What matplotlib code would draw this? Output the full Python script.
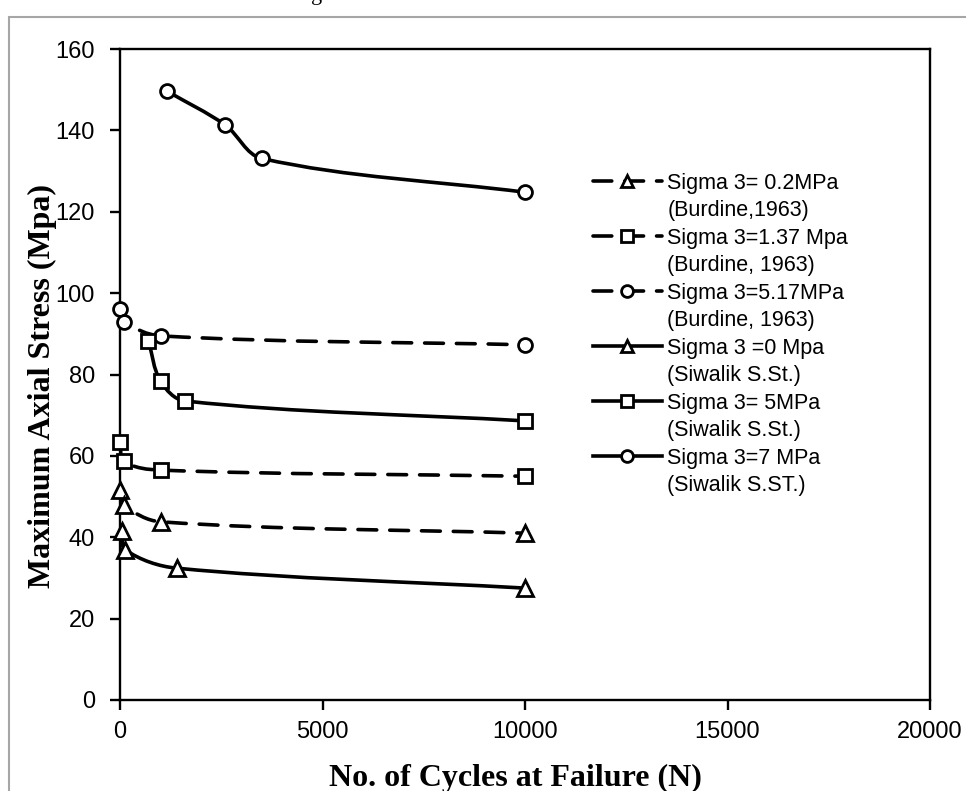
import numpy as np
import matplotlib.pyplot as plt
from matplotlib.path import Path
from matplotlib.patches import PathPatch, Rectangle
from matplotlib.lines import Line2D

# ---- data ----
n_02 = [10, 100, 1000, 10000]          # Sigma 3 = 0.2 MPa (Burdine)
s_02 = [51.6, 47.9, 43.8, 41.0]
n_137 = [10, 100, 1000, 10000]         # Sigma 3 = 1.37 MPa (Burdine)
s_137 = [63.5, 58.7, 56.5, 55.0]
n_517 = [10, 100, 1000, 10000]         # Sigma 3 = 5.17 MPa (Burdine)
s_517 = [96.2, 93.0, 89.5, 87.3]
n_0 = [60, 130, 1400, 10000]           # Sigma 3 = 0 MPa (Siwalik)
s_0 = [41.5, 36.9, 32.4, 27.5]
n_5 = [700, 1000, 1600, 10000]         # Sigma 3 = 5 MPa (Siwalik)
s_5 = [88.3, 78.4, 73.5, 68.6]
n_7 = [1150, 2600, 3500, 10000]        # Sigma 3 = 7 MPa (Siwalik)
s_7 = [149.7, 141.3, 133.1, 124.8]

labels1 = ['Sigma 3= 0.2MPa', 'Sigma 3=1.37 Mpa', 'Sigma 3=5.17MPa',
           'Sigma 3 =0 Mpa', 'Sigma 3= 5MPa', 'Sigma 3=7 MPa']
labels2 = ['(Burdine,1963)', '(Burdine, 1963)', '(Burdine, 1963)',
           '(Siwalik S.St.)', '(Siwalik S.St.)', '(Siwalik S.ST.)']

xticks = [0, 5000, 10000, 15000, 20000]
yticks = [0, 20, 40, 60, 80, 100, 120, 140, 160]

W, H = 966, 791
fig = plt.figure(figsize=(W/100, H/100), dpi=100)
L, R, T, B = 120, 930, 49, 700
ax = fig.add_axes([L/W, 1-B/H, (R-L)/W, (B-T)/H])
ax.set_xlim(0, 20000)
ax.set_ylim(0, 160)

# outer chart border (cut at right/bottom like the original)
fig.patches.append(Rectangle((9/W, -0.2), 1.5, 1-17/H+0.2, transform=fig.transFigure,
                             fill=False, edgecolor='#a6a6a6', lw=1.5))
# bit of caption text above the chart, cut by the image edge
fig.text(317/W, 1.0, 'g', fontsize=16, family='Liberation Serif', ha='center', va='baseline')

def unit(v):
    n = np.hypot(v[0], v[1])
    return v/n if n > 0 else v

def smooth(ax, xs, ys, dashed):
    # smoothed line like excel: cubic bezier pieces, worked out in pixel space
    sx = (R-L)/20000.0
    sy = (B-T)/160.0
    p = np.column_stack([np.array(xs)*sx, np.array(ys)*sy])
    pts = [p[0]]
    codes = [Path.MOVETO]
    for i in range(len(p)-1):
        p0 = p[i-1] if i > 0 else p[i]
        p1, p2 = p[i], p[i+1]
        p3 = p[i+2] if i+2 < len(p) else p[i+1]
        seg = np.hypot(*(p2-p1))
        c1 = p1 + unit(p2-p0)*seg/3.0
        c2 = p2 - unit(p3-p1)*seg/3.0
        pts += [c1, c2, p2]
        codes += [Path.CURVE4]*3
    pts = np.array(pts)
    pts[:, 0] /= sx
    pts[:, 1] /= sy
    ls = (0, (5.2, 3.6)) if dashed else '-'
    patch = PathPatch(Path(pts, codes), fill=False, lw=2.6, edgecolor='black',
                      linestyle=ls, capstyle='round', joinstyle='round', zorder=2)
    ax.add_patch(patch)

series = [(n_02, s_02, '^', True), (n_137, s_137, 's', True), (n_517, s_517, 'o', True),
          (n_0, s_0, '^', False), (n_5, s_5, 's', False), (n_7, s_7, 'o', False)]
msize = {'^': 11, 's': 10, 'o': 10}

handles = []
labels = []
for (xs, ys, m, d), l1, l2 in zip(series, labels1, labels2):
    smooth(ax, xs, ys, d)
    ax.plot(xs, ys, linestyle='none', marker=m, ms=msize[m], mfc='white', mec='black',
            mew=2, zorder=3, clip_on=False)
    h = Line2D([], [], color='black', lw=2.6, linestyle=(0, (5.2, 3.6)) if d else '-',
               marker=m, ms=msize[m]*0.85, mfc='white', mec='black', mew=2,
               dash_capstyle='round')
    handles += [h, Line2D([], [], linestyle='none')]
    labels += [l1, l2]

leg = fig.legend(handles, labels, loc='upper left', bbox_to_anchor=(593/W, 1-173/H),
                 bbox_transform=fig.transFigure, frameon=False, borderpad=0,
                 borderaxespad=0, handlelength=3.2, handletextpad=0.25,
                 labelspacing=0.30, prop={'family': 'Liberation Sans', 'size': 15.5})

for sp in ax.spines.values():
    sp.set_linewidth(1.7)
ax.set_xticks(xticks)
ax.set_yticks(yticks)
ax.tick_params(direction='out', length=7, width=1.7, top=False, right=False)
ax.tick_params(axis='y', pad=11)
ax.tick_params(axis='x', pad=8)
for lab in ax.get_xticklabels() + ax.get_yticklabels():
    lab.set_family('Liberation Sans')
    lab.set_fontsize(17)

fig.text(515/W, 1-778/H, 'No. of Cycles at Failure (N)', ha='center', va='center',
         family='Liberation Serif', fontweight='bold', fontsize=23)
fig.text(42/W, 1-386/H, 'Maximum Axial Stress (Mpa)', ha='center', va='center',
         rotation=90, family='Liberation Serif', fontweight='bold', fontsize=23)

fig.savefig('out.png', dpi=100)
